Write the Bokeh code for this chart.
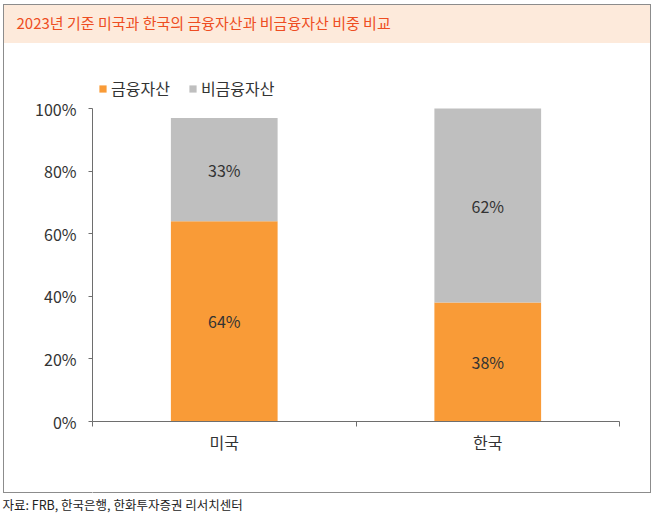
from bokeh.plotting import figure
from bokeh.models import (ColumnDataSource, Range1d, FixedTicker, PrintfTickFormatter,
                          Legend, LegendItem, Title, LinearAxis)
from bokeh.core.properties import value
from bokeh.embed import file_html
from bokeh.resources import INLINE

# 2023 asset composition (share of total assets, %)
countries = ["미국", "한국"]
financial = [64, 38]
non_financial = [33, 62]
y_ticks = [0, 20, 40, 60, 80, 100]

FONT = "Noto Sans CJK KR"
ORANGE = "#F99B37"
GRAY = "#BFBFBF"
AXIS = "#6E6E6E"
FRAME = "#8C8C8C"
BAND = "#FDEADB"
TEXT = "#333333"

xs = [i + 0.5 for i in range(len(countries))]
src = ColumnDataSource(dict(
    x=xs,
    fin=financial,
    non=non_financial,
    fin_mid=[f / 2 for f in financial],
    non_mid=[f + n / 2 for f, n in zip(financial, non_financial)],
    fin_lbl=[f"{f}%" for f in financial],
    non_lbl=[f"{n}%" for n in non_financial],
))

# panel outline and title band are painted behind a transparent canvas
line = f"linear-gradient({FRAME},{FRAME})"
band = f"linear-gradient({BAND},{BAND})"
panel_css = {
    "background-image": ", ".join([line, line, line, line, band]),
    "background-size": "648px 1px, 648px 1px, 1px 489px, 1px 489px, 647px 38px",
    "background-position": "3px 4px, 3px 492px, 3px 4px, 650px 4px, 4px 5px",
    "background-repeat": "no-repeat",
}

# plot frame reaches above the 100% line so the legend sits inside it;
# the y axis itself is bounded to 0-100
TOP, BOTTOM, AXIS_TOP = 32, 421, 108
y_end = 100 * (BOTTOM - TOP) / (BOTTOM - AXIS_TOP)

p = figure(width=654, height=515, output_backend="svg", toolbar_location=None,
           x_range=Range1d(0, len(countries)), y_range=Range1d(0, y_end),
           min_border_left=92, min_border_right=35, min_border_top=TOP,
           min_border_bottom=515 - BOTTOM, styles=panel_css)
p.outline_line_color = None
p.xgrid.visible = False
p.ygrid.visible = False
p.background_fill_color = None
p.border_fill_color = None

bars = p.vbar_stack(["fin", "non"], x="x", width=0.405, source=src,
                    color=[ORANGE, GRAY], line_color=None)

for col, ycol in (("fin_lbl", "fin_mid"), ("non_lbl", "non_mid")):
    p.text(x="x", y=ycol, text=col, source=src, text_align="center",
           text_baseline="middle", text_font=value(FONT), text_font_size="16px",
           text_color=TEXT)

# y axis
p.yaxis.bounds = (0, 100)
p.yaxis.ticker = FixedTicker(ticks=y_ticks)
p.yaxis.formatter = PrintfTickFormatter(format="%d%%")
p.yaxis.axis_line_color = AXIS
p.yaxis.major_tick_line_color = AXIS
p.yaxis.major_tick_in = 0
p.yaxis.major_tick_out = 4
p.yaxis.minor_tick_line_color = None
p.yaxis.major_label_standoff = 12
p.yaxis.major_label_text_font = FONT
p.yaxis.major_label_text_font_size = "16px"
p.yaxis.major_label_text_color = TEXT

# x axis: labels at category centres, tick marks at category boundaries
p.xaxis.ticker = FixedTicker(ticks=xs, minor_ticks=list(range(len(countries) + 1)))
p.xaxis.major_label_overrides = {x: c for x, c in zip(xs, countries)}
p.xaxis.axis_line_color = AXIS
p.xaxis.major_tick_line_color = None
p.xaxis.minor_tick_line_color = AXIS
p.xaxis.minor_tick_in = 0
p.xaxis.minor_tick_out = 5
p.xaxis.major_label_standoff = 2
p.xaxis.major_label_text_font = FONT
p.xaxis.major_label_text_font_size = "16px"
p.xaxis.major_label_text_color = TEXT

# blank axis (white tick on white) that only reserves room above the source line
spacer = LinearAxis(ticker=FixedTicker(ticks=[0]), axis_line_color=None,
                    major_tick_line_color="white", minor_tick_line_color=None,
                    major_tick_in=0, major_tick_out=36, major_label_standoff=0,
                    major_label_overrides={0: ""})
p.add_layout(spacer, "below")

legend = Legend(items=[LegendItem(label="금융자산", renderers=[bars[0]]),
                       LegendItem(label="비금융자산", renderers=[bars[1]])],
                orientation="horizontal", location=(6, 321),
                glyph_width=9, glyph_height=9, label_standoff=4, spacing=18,
                padding=0, margin=0, border_line_color=None,
                background_fill_alpha=0,
                label_text_font=FONT, label_text_font_size="16px",
                label_text_color=TEXT)
p.add_layout(legend, "center")

p.add_layout(Title(text="2023년 기준 미국과 한국의 금융자산과 비금융자산 비중 비교",
                   align="left", offset=-76, standoff=0,
                   text_font=FONT, text_font_size="15px", text_font_style="normal",
                   text_color="#EE4D22"), "above")

p.add_layout(Title(text="자료: FRB, 한국은행, 한화투자증권 리서치센터",
                   align="left", offset=-90, standoff=0,
                   text_font=FONT, text_font_size="12.5px", text_font_style="normal",
                   text_color="#222222"), "below")

open("out.html", "w").write(file_html(p, INLINE))
